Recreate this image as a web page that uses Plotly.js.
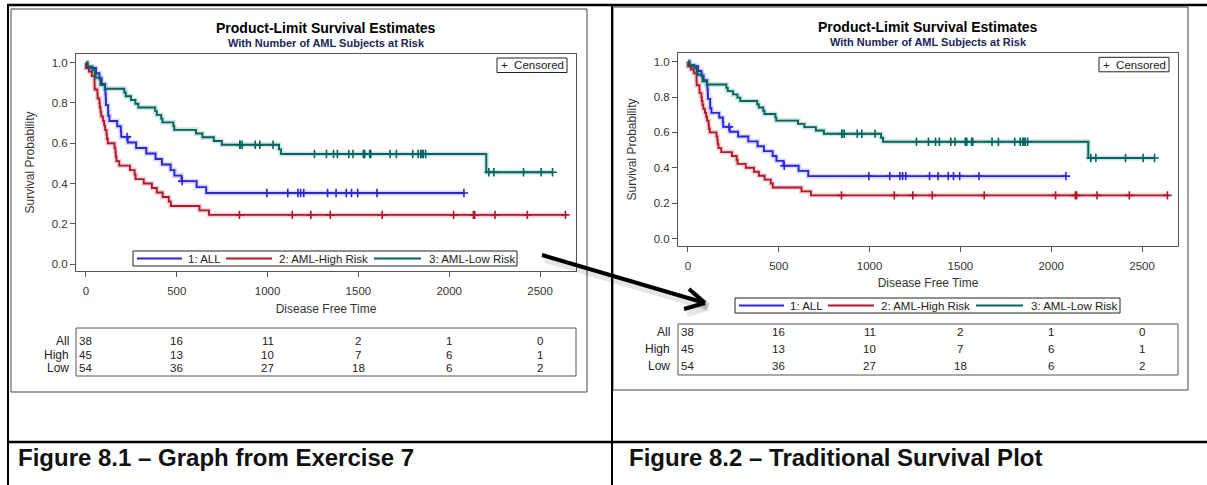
<!DOCTYPE html>
<html>
<head>
<meta charset="utf-8">
<script src="https://cdn.plot.ly/plotly-3.0.1.min.js"></script>
<style>
  html, body { margin: 0; padding: 0; background: #ffffff; }
  #chart { width: 1207px; height: 485px; }
</style>
</head>
<body>
<div id="chart"></div>
<script>
// ---------------- DATA (BMT study, disease free time) ----------------
// 1: ALL
const allTimes  = [2081,1602,1496,1462,1433,1377,1330,996,226,1199,1111,530,1182,1167,
                   418,383,276,104,609,172,487,662,194,230,526,122,129,74,122,86,466,192,109,55,1,107,110,332];
const allStatus = [0,0,0,0,0,0,0,0,0,0,0,0,0,0,
                   1,1,1,1,1,1,1,1,1,1,1,1,1,1,1,1,1,1,1,1,1,1,1,1];
// 2: AML-High Risk
const highTimes  = [2640,2430,2252,2140,2133,1238,1631,2024,1345,1136,845,
                    422,162,84,100,2,47,242,456,268,318,32,467,47,390,183,105,115,164,93,120,80,677,64,168,74,16,157,625,48,273,63,76,113,363];
const highStatus = [0,0,0,0,0,0,0,0,0,0,0,
                    1,1,1,1,1,1,1,1,1,1,1,1,1,1,1,1,1,1,1,1,1,1,1,1,1,1,1,1,1,1,1,1,1,1];
// 3: AML-Low Risk
const lowTimes  = [2569,2506,2409,2218,1857,1829,1562,1470,1363,1030,860,1258,2246,1870,1799,1709,1674,1568,1527,1324,957,932,847,848,1850,1843,1535,1447,1384,
                   414,2204,1063,481,105,641,390,288,421,79,748,486,48,272,1074,381,10,53,80,35,248,704,211,219,606];
const lowStatus = [0,0,0,0,0,0,0,0,0,0,0,0,0,0,0,0,0,0,0,0,0,0,0,0,0,0,0,0,0,
                   1,1,1,1,1,1,1,1,1,1,1,1,1,1,1,1,1,1,1,1,1,1,1,1,1];

const groupNames = ['1: ALL', '2: AML-High Risk', '3: AML-Low Risk'];
const riskLabels = ['All', 'High', 'Low'];
const riskTimes  = [0, 500, 1000, 1500, 2000, 2500];
const riskAll    = [38, 16, 11, 2, 1, 0];
const riskHigh   = [45, 13, 10, 7, 6, 1];
const riskLow    = [54, 36, 27, 18, 6, 2];
const yTicks     = [0, 0.2, 0.4, 0.6, 0.8, 1.0];
const xTicks     = [0, 500, 1000, 1500, 2000, 2500];
const chartTitle = 'Product-Limit Survival Estimates';
const chartSub   = 'With Number of AML Subjects at Risk';
const captions   = ['Figure 8.1 \u2013 Graph from Exercise 7', 'Figure 8.2 \u2013 Traditional Survival Plot'];

// ---------------- Kaplan-Meier product-limit estimate ----------------
function productLimit(times, status) {
  const order = times.map((t, i) => i).sort((a, b) => times[a] - times[b]);
  let n = times.length, S = 1, i = 0;
  const lx = [0], ly = [1], cx = [], cy = [];
  while (i < order.length) {
    const t = times[order[i]];
    let d = 0, c = 0;
    while (i < order.length && times[order[i]] === t) {
      if (status[order[i]] === 1) d++; else c++;
      i++;
    }
    if (d > 0) S *= (1 - d / n);
    lx.push(t); ly.push(S);
    if (c > 0) { cx.push(t); cy.push(S); }
    n -= d + c;
  }
  return { lx, ly, cx, cy };
}

const groups = [
  productLimit(allTimes, allStatus),
  productLimit(highTimes, highStatus),
  productLimit(lowTimes, lowStatus)
];
const colors = ['#2A25D9', '#B2182B', '#01665E'];
const halos  = ['rgba(42,37,217,0.18)', 'rgba(178,24,43,0.18)', 'rgba(1,102,94,0.18)'];
const riskRows = [riskAll, riskHigh, riskLow];

// ---------------- Layout helpers ----------------
const W = 1207, H = 485;
const X = p => p / W;
const Y = p => 1 - p / H;
const FONT = 'Liberation Sans, Arial, Helvetica, sans-serif';

const traces = [];
['', '2'].forEach(sfx => {
  groups.forEach((g, k) => {
    traces.push({ x: g.lx, y: g.ly, xaxis: 'x' + sfx, yaxis: 'y' + sfx, type: 'scatter', mode: 'lines',
      line: { shape: 'hv', color: halos[k], width: 5 }, hoverinfo: 'skip', showlegend: false });
    traces.push({ x: g.lx, y: g.ly, xaxis: 'x' + sfx, yaxis: 'y' + sfx, type: 'scatter', mode: 'lines',
      name: groupNames[k], line: { shape: 'hv', color: colors[k], width: 1.9 }, showlegend: false });
    traces.push({ x: g.cx, y: g.cy, xaxis: 'x' + sfx, yaxis: 'y' + sfx, type: 'scatter', mode: 'markers',
      name: 'Censored', marker: { symbol: 'cross-thin', size: 6, color: colors[k], line: { color: colors[k], width: 1.6 } },
      showlegend: false });
  });
});

function axisX(domain, anchor) {
  return {
    domain: domain, anchor: anchor, range: [-55, 2698], tickvals: xTicks,
    showline: true, mirror: true, linecolor: '#555', linewidth: 1,
    ticks: 'outside', ticklen: 5, tickcolor: '#555', ticklabelstandoff: 4,
    showgrid: false, zeroline: false, fixedrange: true,
    tickfont: { family: FONT, size: 11.5, color: '#333' },
    title: { text: 'Disease Free Time', font: { family: FONT, size: 12, color: '#333' }, standoff: 8 }
  };
}
function axisY(domain, anchor, range) {
  return {
    domain: domain, anchor: anchor, range: range, tickvals: yTicks, tickformat: '.1f',
    showline: true, mirror: true, linecolor: '#555', linewidth: 1,
    ticks: 'outside', ticklen: 5, tickcolor: '#555',
    showgrid: false, zeroline: false, fixedrange: true,
    tickfont: { family: FONT, size: 11.5, color: '#333' },
    title: { text: 'Survival Probability', font: { family: FONT, size: 12, color: '#333' }, standoff: 14 }
  };
}

// panel geometry in pixels
const P = [
  { l: 76, r: 576, t: 54, b: 271, yr: [-0.034, 1.043], frame: [11, 587, 9, 392],
    legend: [133, 517, 251, 266], risk: [76, 576, 328, 376], rows: [341, 355, 368], rowLab: 71,
    titleY: 28, subY: 43, capX: 16, xref: 'x' },
  { l: 678, r: 1178, t: 53.3, b: 245.7, yr: [-0.040, 1.047], frame: [613, 1188, 7, 390],
    legend: [735, 1120, 298, 313], risk: [678, 1178, 324, 375], rows: [331.5, 349, 366], rowLab: 672,
    titleY: 27, subY: 42, capX: 627, xref: 'x2' }
];

const shapes = [];
const annotations = [];

P.forEach((p, pi) => {
  // chart frame
  shapes.push({ type: 'rect', xref: 'paper', yref: 'paper', x0: X(p.frame[0]), x1: X(p.frame[1]),
    y0: Y(p.frame[3]), y1: Y(p.frame[2]), line: { color: '#444', width: 1 } });
  // group legend box
  shapes.push({ type: 'rect', xref: 'paper', yref: 'paper', x0: X(p.legend[0]), x1: X(p.legend[1]),
    y0: Y(p.legend[3]), y1: Y(p.legend[2]), line: { color: '#222', width: 1 }, fillcolor: '#ffffff' });
  const lgY = (p.legend[2] + p.legend[3]) / 2;
  const off = p.legend[0];
  const items = [[4, 49, 53], [93, 139, 144], [241, 288, 294]];
  items.forEach((it, k) => {
    shapes.push({ type: 'line', xref: 'paper', yref: 'paper', x0: X(off + it[0]), x1: X(off + it[1]),
      y0: Y(lgY), y1: Y(lgY), line: { color: colors[k], width: 2 } });
    annotations.push({ xref: 'paper', yref: 'paper', x: X(off + it[2]), y: Y(lgY), xanchor: 'left', yanchor: 'middle',
      text: groupNames[k], showarrow: false, font: { family: FONT, size: 11.5, color: '#222' } });
  });
  // censored legend
  shapes.push({ type: 'rect', xref: 'paper', yref: 'paper', x0: X(p.r - 79), x1: X(p.r - 9),
    y0: Y(p.t + 18.5), y1: Y(p.t + 4), line: { color: '#222', width: 1 }, fillcolor: '#ffffff' });
  annotations.push({ xref: 'paper', yref: 'paper', x: X(p.r - 44), y: Y(p.t + 11.5), xanchor: 'center', yanchor: 'middle',
    text: '+  Censored', showarrow: false, font: { family: FONT, size: 11.5, color: '#222' } });
  // at-risk table
  shapes.push({ type: 'rect', xref: 'paper', yref: 'paper', x0: X(p.risk[0]), x1: X(p.risk[1]),
    y0: Y(p.risk[3]), y1: Y(p.risk[2]), line: { color: '#555', width: 1 } });
  riskRows.forEach((row, r) => {
    annotations.push({ xref: 'paper', yref: 'paper', x: X(p.rowLab), y: Y(p.rows[r]), xanchor: 'right', yanchor: 'middle',
      text: riskLabels[r], showarrow: false, font: { family: FONT, size: 12, color: '#222' } });
    row.forEach((v, c) => {
      annotations.push({ xref: p.xref, yref: 'paper', x: riskTimes[c], y: Y(p.rows[r]), xanchor: 'center', yanchor: 'middle',
        text: String(v), showarrow: false, font: { family: FONT, size: 11.5, color: '#222' } });
    });
  });
  // titles
  const cx = X((p.l + p.r) / 2);
  annotations.push({ xref: 'paper', yref: 'paper', x: cx, y: Y(p.titleY), xanchor: 'center', yanchor: 'middle',
    text: '<b>' + chartTitle + '</b>', showarrow: false, font: { family: FONT, size: 14, color: '#000' } });
  annotations.push({ xref: 'paper', yref: 'paper', x: cx, y: Y(p.subY), xanchor: 'center', yanchor: 'middle',
    text: '<b>' + chartSub + '</b>', showarrow: false, font: { family: FONT, size: 11, color: '#1c2557' } });
  // caption
  annotations.push({ xref: 'paper', yref: 'paper', x: X(p.capX), y: Y(457), xanchor: 'left', yanchor: 'middle',
    text: '<b>' + captions[pi] + '</b>', showarrow: false, font: { family: FONT, size: 24, color: '#111' } });
});

// document table rules
const rule = (x0, y0, x1, y1, w) => ({ type: 'line', xref: 'paper', yref: 'paper',
  x0: X(x0), y0: Y(y0), x1: X(x1), y1: Y(y1), line: { color: '#000', width: w } });
shapes.push(rule(7, 5, 1207, 5, 2.5));
shapes.push(rule(7, 442, 1207, 442, 2.5));
shapes.push(rule(8, 4, 8, 485, 2));
shapes.push(rule(612, 4, 612, 485, 2));

// arrow (soft shadow then arrow)
const arrowPts = [[542, 255, 705, 303], [705, 303, 689, 289], [705, 303, 684, 309]];
arrowPts.forEach(a => {
  shapes.push({ type: 'line', xref: 'paper', yref: 'paper', x0: X(a[0] + 3), y0: Y(a[1] + 4), x1: X(a[2] + 3), y1: Y(a[3] + 4),
    line: { color: 'rgba(0,0,0,0.10)', width: 8 } });
});
arrowPts.forEach(a => {
  shapes.push({ type: 'line', xref: 'paper', yref: 'paper', x0: X(a[0]), y0: Y(a[1]), x1: X(a[2]), y1: Y(a[3]),
    line: { color: '#000', width: 4 } });
});

const layout = {
  width: W, height: H,
  margin: { l: 0, r: 0, t: 0, b: 0 },
  paper_bgcolor: '#ffffff', plot_bgcolor: '#ffffff',
  showlegend: false, hovermode: false,
  xaxis:  axisX([X(P[0].l), X(P[0].r)], 'y'),
  yaxis:  axisY([Y(P[0].b), Y(P[0].t)], 'x', P[0].yr),
  xaxis2: axisX([X(P[1].l), X(P[1].r)], 'y2'),
  yaxis2: axisY([Y(P[1].b), Y(P[1].t)], 'x2', P[1].yr),
  shapes: shapes,
  annotations: annotations
};

Plotly.newPlot('chart', traces, layout, { displayModeBar: false, staticPlot: true });
</script>
</body>
</html>
